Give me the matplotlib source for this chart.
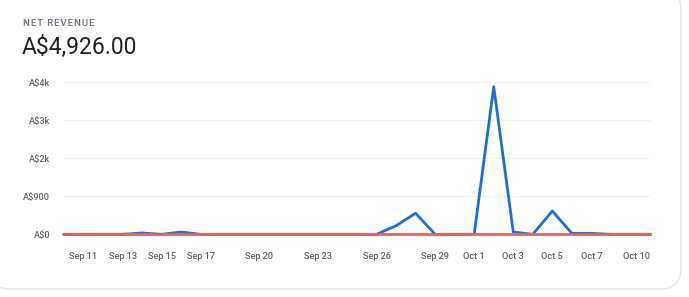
import matplotlib.pyplot as plt
from matplotlib.patches import FancyBboxPatch

plt.rcParams['font.family'] = ['Roboto', 'DejaVu Sans']

# daily net revenue, Sep 10 .. Oct 10 (day index 0 = Sep 10)
day_index = list(range(31))
revenue = [0, 0, 0, 0, 35, 0, 60, 0, 0, 0, 0, 0, 0, 0, 0, 0,
           0, 226, 553, 0, 0, 0, 3884, 60, 0, 613, 25, 25, 0, 0, 0]
baseline = [0] * 31

tick_days = [1, 3, 5, 7, 10, 13, 16, 19, 21, 23, 25, 27, 30]
tick_labels = ["Sep 11", "Sep 13", "Sep 15", "Sep 17", "Sep 20", "Sep 23",
               "Sep 26", "Sep 29", "Oct 1", "Oct 3", "Oct 5", "Oct 7", "Oct 10"]
y_ticks = [0, 1000, 2000, 3000, 4000]
y_labels = ["A$0", "A$900", "A$2k", "A$3k", "A$4k"]

W, H = 689, 297
fig = plt.figure(figsize=(W / 100, H / 100), dpi=100)
fig.patch.set_facecolor("white")

# card behind everything
card = FancyBboxPatch((-10 / W, 1 - 289 / H), 691 / W, 300 / H,
                      boxstyle="round,pad=0,rounding_size=0.03",
                      transform=fig.transFigure, facecolor="white",
                      edgecolor="#e6e7e9", linewidth=1.0, mutation_aspect=W / H,
                      zorder=-10)
fig.patches.append(card)

fig.text(23 / W, 1 - 24 / H, "\u200a".join("NET REVENUE"), fontsize=6.8,
         color="#6b7280", va="center", ha="left", fontweight="medium")
fig.text(22 / W, 1 - 47 / H, "A$4,926.00", fontsize=16.5,
         color="#202124", va="center", ha="left")

ax = fig.add_axes([64 / W, 1 - 234.3 / H, (650 - 64) / W, (234.3 - 82.3) / H])
ax.set_zorder(5)
ax.set_facecolor("none")
ax.plot(day_index, revenue, color="#1a6fdc", linewidth=2.0, clip_on=False, zorder=3)
ax.plot(day_index, baseline, color="#e5645b", linewidth=2.0, clip_on=False, zorder=4)

ax.set_xlim(0, 30)
ax.set_ylim(0, 4000)
ax.set_yticks(y_ticks)
ax.set_yticklabels(y_labels, fontweight="medium")
ax.set_xticks(tick_days)
ax.set_xticklabels(tick_labels, fontweight="medium")
ax.get_xticklabels()[-1].set_horizontalalignment("right")
ax.grid(axis="y", color="#f1f1f3", linewidth=0.9)
ax.tick_params(length=0, labelsize=6.6, labelcolor="#5f6368")
ax.tick_params(axis="x", pad=13)
ax.tick_params(axis="y", pad=10)
for s in ax.spines.values():
    s.set_visible(False)

fig.savefig("out.png", dpi=100)
